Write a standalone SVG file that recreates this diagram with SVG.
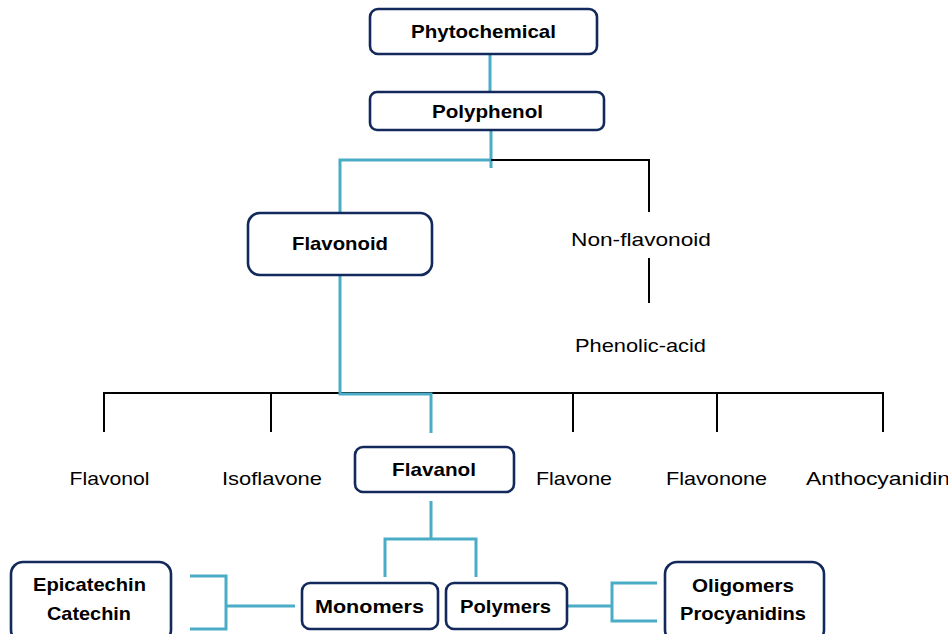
<svg xmlns="http://www.w3.org/2000/svg" width="948" height="634" viewBox="0 0 948 634">
  <style>
    .box { fill: #ffffff; stroke: #13295b; stroke-width: 2.6; }
    .blue { fill: none; stroke: #4bacc6; stroke-width: 3; stroke-linejoin: miter; }
    .black { fill: none; stroke: #000000; stroke-width: 2; }
    .bold { font-family: "Liberation Sans", Arial, sans-serif; font-weight: bold; font-size: 19px; fill: #000000; text-anchor: middle; }
    .reg { font-family: "Liberation Sans", Arial, sans-serif; font-size: 19px; fill: #000000; text-anchor: middle; }
  </style>

  <rect width="948" height="634" fill="#ffffff"/>

  <!-- connectors -->
  <g id="connectors">
    <!-- Phytochemical to Polyphenol -->
    <path class="blue" d="M490,54 V92"/>
    <!-- Polyphenol to Flavonoid -->
    <path class="blue" d="M491,130 V168 M491,160 H340 V213"/>
    <!-- Polyphenol to Non-flavonoid -->
    <path class="black" d="M491,160 H649 V212"/>
    <!-- Non-flavonoid to Phenolic-acid -->
    <path class="black" d="M649,258 V303"/>
    <!-- Flavonoid subclasses bar -->
    <path class="black" d="M104,432 V393 H883 V432 M271,393 V432 M573,393 V432 M717,393 V432"/>
    <!-- Flavonoid to Flavanol -->
    <path class="blue" d="M340,275 V394 H431 V433"/>
    <!-- Flavanol to Monomers / Polymers -->
    <path class="blue" d="M431,501 V539 M385,577 V539 H476 V577"/>
    <!-- Monomers bracket -->
    <path class="blue" d="M190,576 H226 V629 H190 M226,606 H295"/>
    <!-- Polymers bracket -->
    <path class="blue" d="M567,606 H612 M657,583 H612 V621 H657"/>
  </g>

  <g id="phytochemical">
    <rect class="box" x="370" y="9" width="227" height="45" rx="8"/>
    <text class="bold" x="483.5" y="38" textLength="145" lengthAdjust="spacingAndGlyphs">Phytochemical</text>
  </g>

  <g id="polyphenol">
    <rect class="box" x="370" y="92" width="234" height="38" rx="7"/>
    <text class="bold" x="487.5" y="118" textLength="111" lengthAdjust="spacingAndGlyphs">Polyphenol</text>
  </g>

  <g id="flavonoid">
    <rect class="box" x="248" y="213" width="184" height="62" rx="12"/>
    <text class="bold" x="340" y="250" textLength="96" lengthAdjust="spacingAndGlyphs">Flavonoid</text>
  </g>

  <g id="non-flavonoid">
    <text class="reg" x="641" y="246" textLength="140" lengthAdjust="spacingAndGlyphs">Non-flavonoid</text>
  </g>

  <g id="phenolic-acid">
    <text class="reg" x="640.5" y="352" textLength="131" lengthAdjust="spacingAndGlyphs">Phenolic-acid</text>
  </g>

  <g id="flavonol">
    <text class="reg" x="109.5" y="485" textLength="80" lengthAdjust="spacingAndGlyphs">Flavonol</text>
  </g>

  <g id="isoflavone">
    <text class="reg" x="272" y="485" textLength="100" lengthAdjust="spacingAndGlyphs">Isoflavone</text>
  </g>

  <g id="flavanol">
    <rect class="box" x="355" y="447" width="159" height="45" rx="8"/>
    <text class="bold" x="434" y="476" textLength="84" lengthAdjust="spacingAndGlyphs">Flavanol</text>
  </g>

  <g id="flavone">
    <text class="reg" x="574" y="485" textLength="76" lengthAdjust="spacingAndGlyphs">Flavone</text>
  </g>

  <g id="flavonone">
    <text class="reg" x="716.5" y="485" textLength="101" lengthAdjust="spacingAndGlyphs">Flavonone</text>
  </g>

  <g id="anthocyanidin">
    <text class="reg" x="878" y="485" textLength="144" lengthAdjust="spacingAndGlyphs">Anthocyanidin</text>
  </g>

  <g id="epicatechin-catechin">
    <rect class="box" x="11" y="562" width="160" height="80" rx="12"/>
    <text class="bold" x="89.5" y="591" textLength="113" lengthAdjust="spacingAndGlyphs">Epicatechin</text>
    <text class="bold" x="89" y="620" textLength="84" lengthAdjust="spacingAndGlyphs">Catechin</text>
  </g>

  <g id="monomers">
    <rect class="box" x="302" y="583" width="136" height="46" rx="8"/>
    <text class="bold" x="369.5" y="613" textLength="109" lengthAdjust="spacingAndGlyphs">Monomers</text>
  </g>

  <g id="polymers">
    <rect class="box" x="446" y="583" width="121" height="46" rx="8"/>
    <text class="bold" x="505.5" y="613" textLength="91" lengthAdjust="spacingAndGlyphs">Polymers</text>
  </g>

  <g id="oligomers-procyanidins">
    <rect class="box" x="665" y="562" width="159" height="80" rx="12"/>
    <text class="bold" x="743" y="592" textLength="102" lengthAdjust="spacingAndGlyphs">Oligomers</text>
    <text class="bold" x="743" y="620" textLength="126" lengthAdjust="spacingAndGlyphs">Procyanidins</text>
  </g>
</svg>
